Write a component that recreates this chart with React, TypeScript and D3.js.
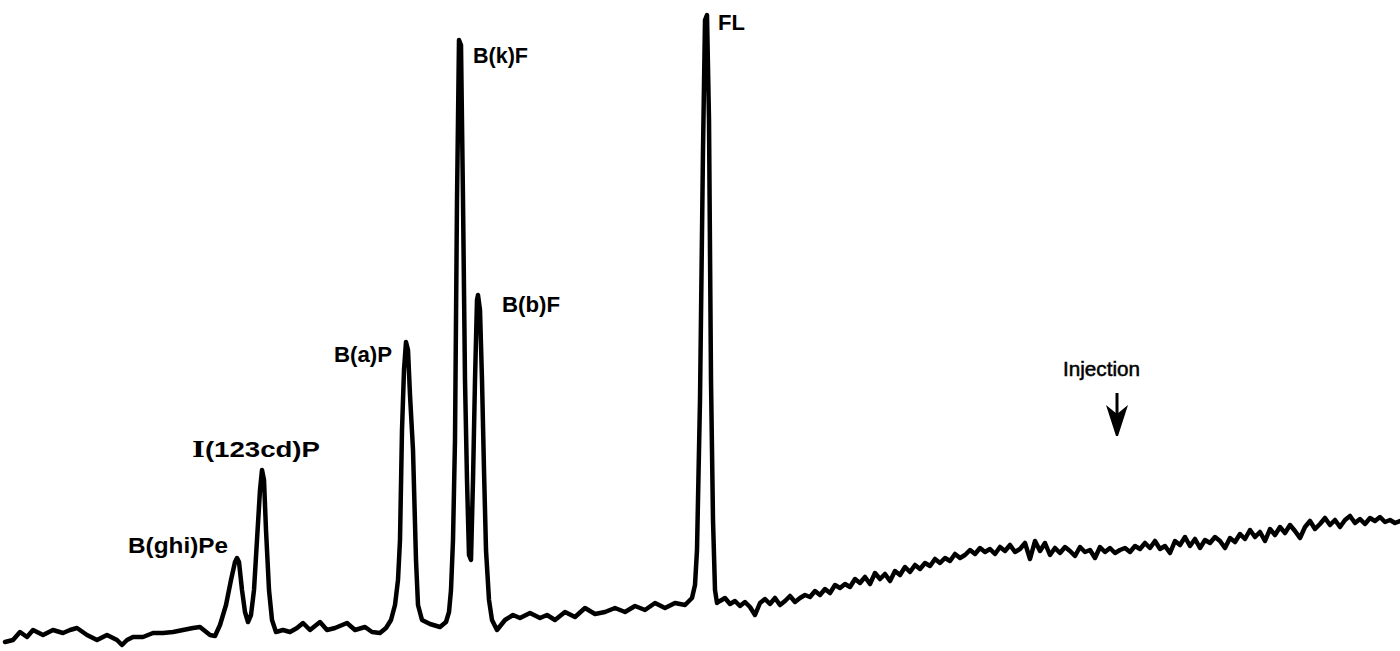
import React, { useRef, useEffect } from "react";
import * as d3 from "d3";

// retention time (arbitrary units) and detector response
const times = [
  5, 13, 20, 27, 33, 43, 53, 63, 70, 77, 87, 97, 107, 117, 122, 127, 133, 143, 153, 163, 173, 183, 193, 200,
  210, 215, 220, 226, 231, 235, 237, 239, 242, 245, 248, 251, 254, 257, 260, 262, 264, 266, 269, 272, 276,
  283, 290, 297, 303, 310, 320, 327, 335, 347, 355, 365, 372, 380, 386, 391, 395, 398, 400, 402, 404, 406,
  408, 410, 413, 416, 418, 422, 430, 440, 446, 449, 451, 453, 455, 457, 459, 461, 463, 465, 467, 469, 471,
  473, 475, 477, 478, 480, 482, 484, 486, 489, 492, 497, 505, 513, 520, 530, 540, 547, 555, 565, 575, 585,
  595, 605, 615, 625, 635, 645, 655, 665, 675, 685, 692, 695, 697, 700, 703, 705, 707, 709, 711, 713, 715,
  717, 720, 725, 730, 735, 740, 745, 750, 755, 760, 765, 770, 775, 780, 785, 790, 795, 800, 805, 810, 815,
  820, 825, 830, 835, 840, 845, 850, 855, 860, 865, 870, 875, 880, 885, 890, 895, 900, 905, 910, 915, 920,
  925, 930, 935, 940, 945, 950, 955, 960, 965, 970, 975, 980, 985, 990, 995, 1000, 1005, 1010, 1015, 1020,
  1025, 1030, 1035, 1040, 1045, 1050, 1055, 1060, 1065, 1070, 1075, 1080, 1085, 1090, 1095, 1100, 1105, 1110,
  1115, 1120, 1125, 1130, 1135, 1140, 1145, 1150, 1155, 1160, 1165, 1170, 1175, 1180, 1185, 1190, 1195, 1200,
  1205, 1210, 1215, 1220, 1225, 1230, 1235, 1240, 1245, 1250, 1255, 1260, 1265, 1270, 1275, 1280, 1285, 1290,
  1295, 1300, 1305, 1310, 1315, 1320, 1325, 1330, 1335, 1340, 1345, 1350, 1355, 1360, 1365, 1370, 1375, 1380,
  1385, 1390, 1395, 1400,
];
const signal = [
  9, 11, 19, 14, 21, 16, 21, 18, 21, 23, 16, 11, 16, 11, 6, 11, 14, 14, 18, 18, 19, 21, 23, 24,
  16, 15, 26, 46, 71, 89, 93, 89, 61, 39, 29, 36, 61, 111, 161, 181, 171, 121, 61, 31, 19,
  21, 19, 23, 28, 21, 29, 21, 23, 28, 21, 24, 19, 18, 23, 31, 46, 71, 111, 221, 281, 309,
  301, 256, 201, 91, 46, 31, 27, 24, 29, 39, 61, 111, 211, 451, 611, 606, 451, 271, 171, 96, 91,
  171, 271, 351, 356, 341, 271, 181, 101, 51, 31, 21, 31, 36, 33, 38, 33, 36, 31, 39, 34, 43,
  37, 39, 43, 39, 45, 41, 48, 43, 48, 46, 53, 66, 101, 251, 501, 631, 636, 531, 271, 131, 61,
  48, 50, 53, 47, 50, 45, 49, 44, 36, 48, 52, 47, 53, 46, 50, 55, 49, 53, 56, 54, 60,
  56, 62, 58, 66, 63, 67, 64, 72, 68, 74, 67, 78, 72, 77, 70, 80, 76, 84, 79, 86, 82,
  88, 85, 92, 88, 93, 90, 97, 93, 96, 101, 97, 103, 99, 102, 97, 104, 100, 106, 99, 102,
  108, 92, 110, 100, 108, 96, 103, 98, 104, 100, 95, 104, 99, 101, 93, 104, 99, 103,
  98, 101, 103, 99, 105, 102, 108, 103, 110, 102, 105, 98, 110, 106, 114, 105, 112, 103,
  111, 108, 114, 110, 103, 113, 109, 117, 112, 121, 114, 119, 110, 122, 116, 124, 118, 126,
  120, 113, 124, 130, 122, 127, 133, 126, 131, 124, 131, 135, 128, 132, 127, 133, 130, 134,
  129, 131, 128, 130,
];

const peakNames = ["B(ghi)Pe", "I(123cd)P", "B(a)P", "B(k)F", "B(b)F", "FL"];
const peakTimes = [237, 262, 406, 459, 478, 707];
const injectionTime = 1117;

const W = 1400;
const H = 651;

// label placement relative to each apex (offsets and printed width)
const labelLayout: Record<string, { dx: number; dy: number; len?: number }> = {
  "B(ghi)Pe": { dx: -109, dy: -5, len: 100 },
  "I(123cd)P": { dx: -70, dy: -13, len: 128 },
  "B(a)P": { dx: -72, dy: 20, len: 58 },
  "B(k)F": { dx: 14, dy: 23, len: 55 },
  "B(b)F": { dx: 24, dy: 17, len: 58 },
  FL: { dx: 11, dy: 15 },
};

export default function App() {
  const svgRef = useRef<SVGSVGElement>(null);

  useEffect(() => {
    const svg = d3.select(svgRef.current);
    svg.selectAll("*").remove();

    const x = d3.scaleLinear().domain([0, 1400]).range([0, W]);
    const y = d3.scaleLinear().domain([0, 651]).range([H, 0]);

    const pts = times.map((t, i) => [t, signal[i]] as [number, number]);
    const line = d3
      .line<[number, number]>()
      .x((d) => x(d[0]))
      .y((d) => y(d[1]));

    svg
      .append("path")
      .datum(pts)
      .attr("d", line)
      .attr("fill", "none")
      .attr("stroke", "#000")
      .attr("stroke-width", 4.5)
      .attr("stroke-linejoin", "round")
      .attr("stroke-linecap", "round");

    const labels = svg
      .append("g")
      .attr("font-family", "'Liberation Sans', Arial, sans-serif")
      .attr("font-weight", "bold")
      .attr("font-size", 22)
      .attr("fill", "#000");

    peakNames.forEach((name, i) => {
      const t = peakTimes[i];
      const idx = times.indexOf(t);
      const lay = labelLayout[name];
      const txt = labels
        .append("text")
        .attr("x", x(t) + lay.dx)
        .attr("y", y(signal[idx]) + lay.dy);
      if (lay.len) txt.attr("textLength", lay.len).attr("lengthAdjust", "spacingAndGlyphs");
      if (name.startsWith("I(")) {
        txt.append("tspan").attr("font-family", "'DejaVu Serif', serif").text("I");
        txt.append("tspan").text(name.slice(1));
      } else {
        txt.text(name);
      }
    });

    // injection marker
    const ix = x(injectionTime);
    labels
      .append("text")
      .attr("x", ix - 54)
      .attr("y", 376)
      .attr("font-weight", "normal")
      .attr("font-size", 20)
      .attr("stroke", "#000")
      .attr("stroke-width", 0.5)
      .attr("textLength", 77)
      .attr("lengthAdjust", "spacingAndGlyphs")
      .text("Injection");

    svg
      .append("line")
      .attr("x1", ix)
      .attr("x2", ix)
      .attr("y1", 393)
      .attr("y2", 420)
      .attr("stroke", "#000")
      .attr("stroke-width", 3);
    svg
      .append("path")
      .attr("d", `M${ix - 11},${405} L${ix},${414} L${ix + 11},${405} L${ix + 1},${436} L${ix - 1},${436} Z`)
      .attr("fill", "#000");
  }, []);

  return (
    <svg
      ref={svgRef}
      width={W}
      height={H}
      style={{ position: "absolute", left: 0, top: 0, background: "#fff" }}
    />
  );
}
